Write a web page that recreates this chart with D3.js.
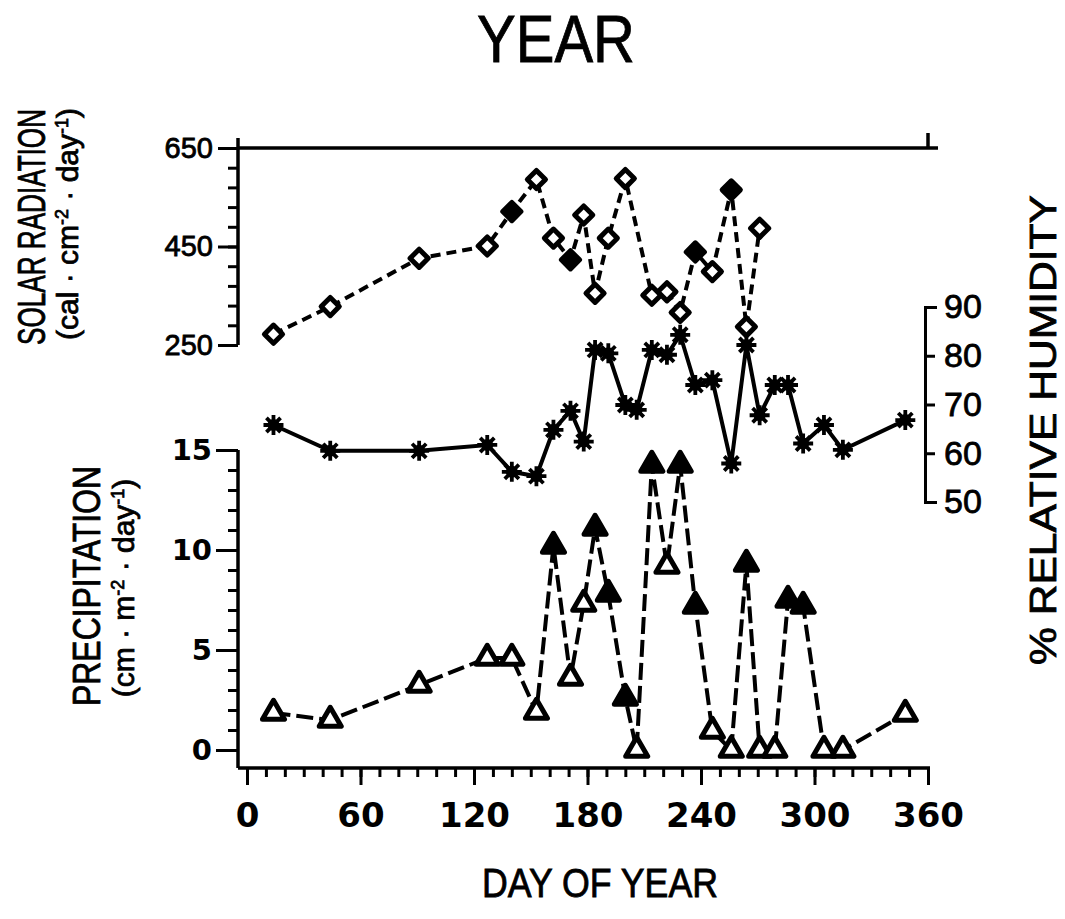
<!DOCTYPE html>
<html lang="en">
<head>
<meta charset="UTF-8">
<title>Year</title>
<style>
  body, html { margin: 0; padding: 0; background: #fff; }
  svg { display: block; }
  text { font-family: "Liberation Sans", Arial, sans-serif; fill: #000; }
  .axis path, .axis line { stroke: #000; stroke-width: 3; fill: none; }
  .axis .domain { display: none; }
  .axis .domain.show { display: inline; }
  .spine { stroke: #000; stroke-width: 3.5; fill: none; }
  .heavy { stroke: #000; stroke-width: 0.8; }
</style>
</head>
<body>
<svg width="1065" height="919"></svg>
<script src="https://d3js.org/d3.v7.min.js"></script>
<script>
// sampling days shared by the three series
const days = [14, 44, 91, 127, 140, 153, 162, 171, 178, 184, 191, 200, 206, 214, 222,
              229, 237, 246, 256, 264, 271, 279, 286, 294, 305, 315, 348];

// solar radiation, cal cm-2 day-1 (null = not measured)
const solar = [272, 328, 426, 451, 521, 586, 467, 423, 514, 355, 467, 588, null, 351, 358,
               316, 439, 399, 565, 287, 487];
const solarFilled = [0, 0, 0, 0, 1, 0, 0, 1, 0, 0, 0, 0, 0, 0, 0, 0, 1, 0, 1, 0, 0];

// relative humidity, %
const humidity = [65.8, 60.5, 60.5, 61.7, 56.2, 55.3, 64.8, 68.7, 62.4, 81.2, 80.5, 69.9, 68.9, 81.2, 80.2,
                  84.3, 74, 75, 57.9, 82.2, 67.8, 74, 74, 62, 65.8, 60.7, 66.8];

// precipitation, cm m-2 day-1
const precip = [1.85, 1.5, 3.25, 4.6, 4.6, 1.9, 10.2, 3.6, 7.3, 11.1, 7.8, 2.6, 0, 14.25, 9.2,
                14.25, 7.2, 0.95, 0, 9.3, 0, 0, 7.5, 7.2, 0, 0, 1.8];
const precipFilled = [0, 0, 0, 0, 0, 0, 1, 0, 0, 1, 1, 1, 0, 1, 0, 1, 1, 0, 0, 1, 0, 0, 1, 1, 0, 0, 0];

const xTicks = [0, 60, 120, 180, 240, 300, 360];
const solarTicks = [250, 450, 650];
const precipTicks = [0, 5, 10, 15];
const humTicks = [50, 60, 70, 80, 90];

const svg = d3.select("svg");

const x = d3.scaleLinear().domain([0, 360]).range([247, 928]);
const ySolar = d3.scaleLinear().domain([250, 650]).range([345, 148]);
const yPrecip = d3.scaleLinear().domain([0, 15]).range([750, 450]);
const yHum = d3.scaleLinear().domain([50, 90]).range([502, 307]);

const spineX = 238;
const baseY = 768;
const humX = 925;

// ---- axes ----
// bottom
svg.append("g").attr("class", "axis").attr("transform", `translate(0,${baseY})`)
  .call(d3.axisBottom(x).tickValues(d3.range(0, 361, 10)).tickSize(9).tickFormat(""));
const gx = svg.append("g").attr("class", "axis").attr("transform", `translate(0,${baseY})`)
  .call(d3.axisBottom(x).tickValues(xTicks).tickSize(17).tickPadding(18));
gx.selectAll("text").attr("font-size", 34).attr("font-weight", "bold")
  .style("font-family", "'DejaVu Sans', sans-serif").attr("dy", "0.72em");
svg.append("line").attr("class", "spine")
  .attr("x1", spineX).attr("x2", x(360) + 2).attr("y1", baseY).attr("y2", baseY);

// left, solar
svg.append("g").attr("class", "axis").attr("transform", `translate(${spineX},0)`)
  .call(d3.axisLeft(ySolar).tickValues(d3.range(250, 651, 40)).tickSize(10).tickFormat(""));
const gs = svg.append("g").attr("class", "axis").attr("transform", `translate(${spineX},0)`)
  .call(d3.axisLeft(ySolar).tickValues(solarTicks).tickSize(20).tickPadding(5));
gs.selectAll("text").attr("font-size", 29).attr("class", "heavy");
svg.append("line").attr("class", "spine")
  .attr("x1", spineX).attr("x2", spineX).attr("y1", ySolar(650) - 10).attr("y2", ySolar(250));

// top frame at 650 with the end tick
svg.append("line").attr("class", "spine")
  .attr("x1", spineX).attr("x2", x(360) + 10).attr("y1", ySolar(650)).attr("y2", ySolar(650));
svg.append("line").attr("class", "spine")
  .attr("x1", x(360)).attr("x2", x(360)).attr("y1", ySolar(650) - 15).attr("y2", ySolar(650));

// left, precipitation
svg.append("g").attr("class", "axis").attr("transform", `translate(${spineX},0)`)
  .call(d3.axisLeft(yPrecip).tickValues(d3.range(0, 16, 1)).tickSize(10).tickFormat(""));
const gp = svg.append("g").attr("class", "axis").attr("transform", `translate(${spineX},0)`)
  .call(d3.axisLeft(yPrecip).tickValues(precipTicks).tickSize(22).tickPadding(4));
gp.selectAll("text").attr("font-size", 29).attr("font-weight", "bold")
  .style("font-family", "'DejaVu Sans', sans-serif");
svg.append("line").attr("class", "spine")
  .attr("x1", spineX).attr("x2", spineX).attr("y1", yPrecip(15)).attr("y2", baseY);

// right, humidity bracket
const gh = svg.append("g").attr("class", "axis").attr("transform", `translate(${humX},0)`)
  .call(d3.axisRight(yHum).tickValues(humTicks).tickSize(10).tickSizeOuter(12).tickPadding(9));
gh.select(".domain").classed("show", true).attr("stroke-width", 3.5);
gh.selectAll("text").attr("font-size", 34).attr("class", "heavy");

// ---- axis titles ----
function vtitle(tx, ty, size, len, parts) {
  const t = svg.append("text")
    .attr("class", "heavy")
    .attr("transform", `translate(${tx},${ty}) rotate(-90)`)
    .attr("text-anchor", "middle")
    .attr("font-size", size);
  if (len) t.attr("textLength", len).attr("lengthAdjust", "spacingAndGlyphs");
  parts.forEach(p => {
    const s = t.append("tspan").text(p[0]);
    if (p[1]) s.attr("baseline-shift", "super").attr("font-size", size * 0.6);
  });
  return t;
}
vtitle(45, 227, 38, 236, [["SOLAR RADIATION"]]);
vtitle(78, 224, 30, null, [["(cal · cm"], ["-2", 1], [" · day"], ["-1", 1], [")"]]);
vtitle(100, 586, 38, 240, [["PRECIPITATION"]]);
vtitle(134, 588, 30, null, [["(cm · m"], ["-2", 1], [" · day"], ["-1", 1], [")"]]);
vtitle(1056, 430, 37, 470, [["% RELATIVE HUMIDITY"]]);

svg.append("text").attr("class", "heavy").attr("x", 556).attr("y", 62).attr("text-anchor", "middle")
  .attr("font-size", 66).attr("textLength", 158).attr("lengthAdjust", "spacingAndGlyphs")
  .text("YEAR");
svg.append("text").attr("class", "heavy").attr("x", 600).attr("y", 897).attr("text-anchor", "middle")
  .attr("font-size", 40).attr("textLength", 236).attr("lengthAdjust", "spacingAndGlyphs")
  .text("DAY OF YEAR");

// ---- series ----
const solarPts = solar.map((v, i) => ({ d: days[i], v, f: solarFilled[i] })).filter(p => p.v != null);
const humPts = humidity.map((v, i) => ({ d: days[i], v }));
const precipPts = precip.map((v, i) => ({ d: days[i], v, f: precipFilled[i] }));

svg.append("path").datum(solarPts)
  .attr("fill", "none").attr("stroke", "#000").attr("stroke-width", 4)
  .attr("stroke-dasharray", "10,6")
  .attr("d", d3.line().x(p => x(p.d)).y(p => ySolar(p.v)));

svg.append("path").datum(humPts)
  .attr("fill", "none").attr("stroke", "#000").attr("stroke-width", 4)
  .attr("d", d3.line().x(p => x(p.d)).y(p => yHum(p.v)));

svg.append("path").datum(precipPts)
  .attr("fill", "none").attr("stroke", "#000").attr("stroke-width", 4)
  .attr("stroke-dasharray", "17,6")
  .attr("d", d3.line().x(p => x(p.d)).y(p => yPrecip(p.v)));

// diamonds
svg.selectAll(".dia").data(solarPts).enter().append("path")
  .attr("class", "dia")
  .attr("transform", p => `translate(${x(p.d)},${ySolar(p.v)}) rotate(45)`)
  .attr("d", d3.symbol().type(d3.symbolSquare).size(165))
  .attr("fill", p => p.f ? "#000" : "#fff")
  .attr("stroke", "#000").attr("stroke-width", 5).attr("stroke-linejoin", "round");

// asterisks, eight arms
const star = {
  draw(ctx, size) {
    const r = Math.sqrt(size) / 2;
    for (let k = 0; k < 4; k++) {
      const a = k * Math.PI / 4;
      ctx.moveTo(-r * Math.cos(a), -r * Math.sin(a));
      ctx.lineTo(r * Math.cos(a), r * Math.sin(a));
    }
  }
};
const gStar = svg.selectAll(".star").data(humPts).enter().append("g")
  .attr("class", "star")
  .attr("transform", p => `translate(${x(p.d)},${yHum(p.v)})`);
gStar.append("path").attr("d", d3.symbol().type(star).size(400))
  .attr("stroke", "#000").attr("stroke-width", 3.8);
gStar.append("circle").attr("r", 6).attr("fill", "#000");

// triangles
svg.selectAll(".tri").data(precipPts).enter().append("path")
  .attr("class", "tri")
  .attr("transform", p => `translate(${x(p.d)},${yPrecip(p.v)})`)
  .attr("d", d3.symbol().type(d3.symbolTriangle).size(210))
  .attr("fill", p => p.f ? "#000" : "#fff")
  .attr("stroke", "#000").attr("stroke-width", 5).attr("stroke-linejoin", "round");
</script>
</body>
</html>
